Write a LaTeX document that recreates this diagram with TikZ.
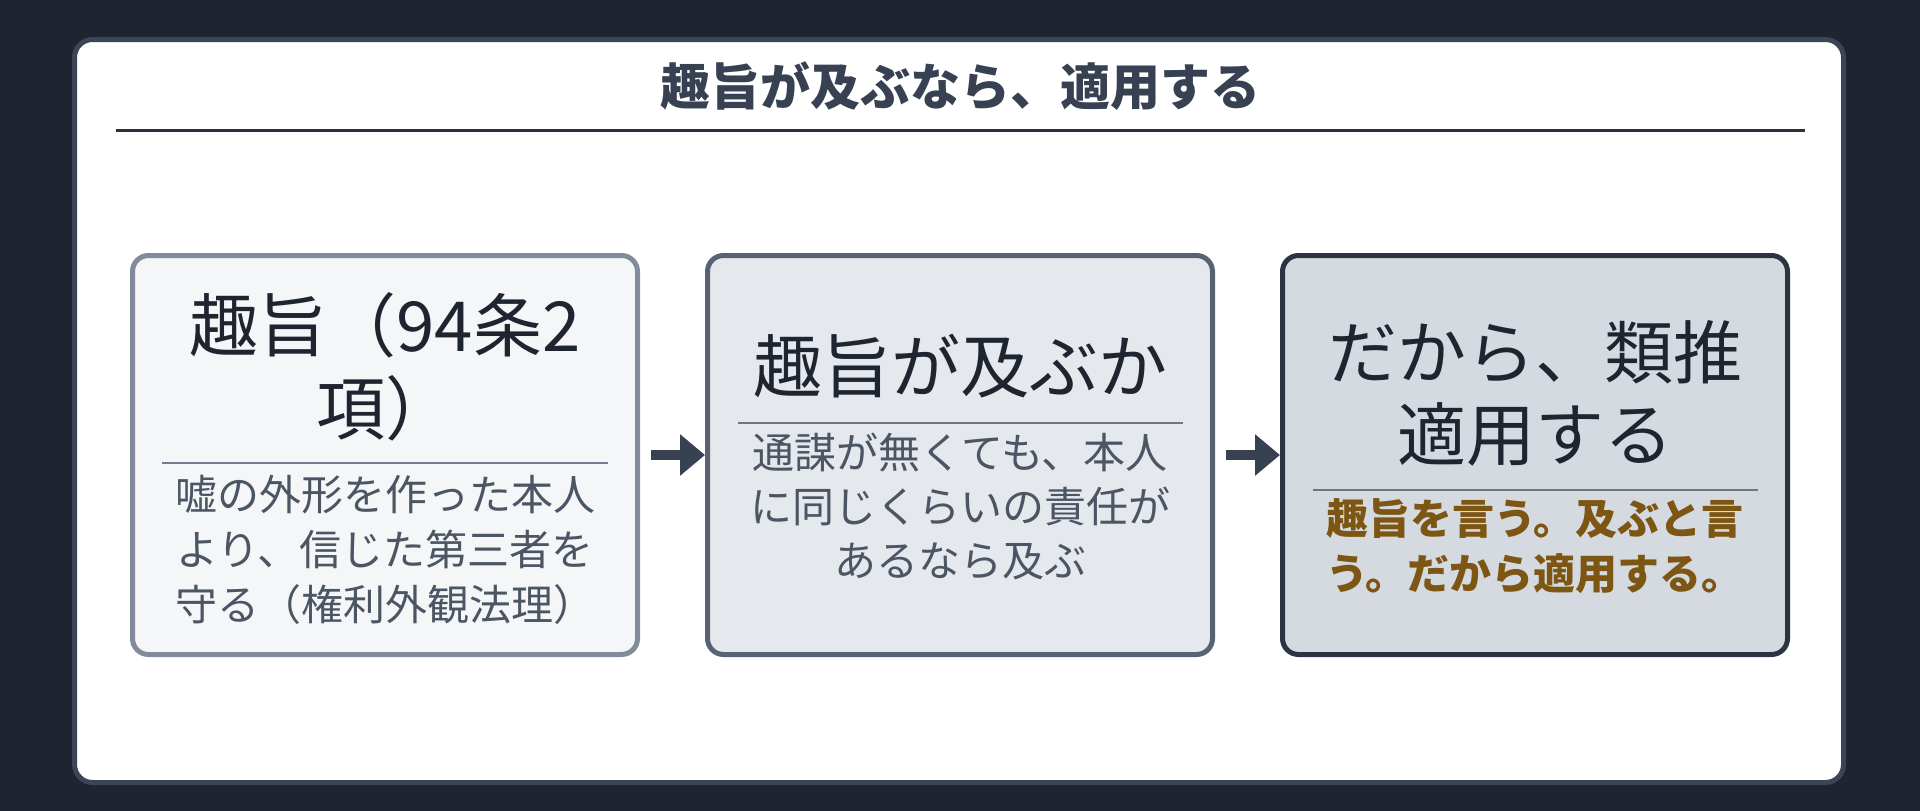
\documentclass[tikz,border=0pt]{standalone}
\usepackage{fontspec}
\newfontfamily\jp{Noto Sans CJK JP}
\usetikzlibrary{arrows.meta}
\definecolor{bgc}{RGB}{30,37,48}
\definecolor{framec}{RGB}{59,69,86}
\definecolor{titlec}{RGB}{55,65,81}
\definecolor{rulec}{RGB}{43,49,60}
\definecolor{fillA}{RGB}{244,246,248}
\definecolor{drawA}{RGB}{129,139,154}
\definecolor{fillB}{RGB}{229,232,236}
\definecolor{drawB}{RGB}{88,98,114}
\definecolor{fillC}{RGB}{213,218,225}
\definecolor{drawC}{RGB}{44,52,66}
\definecolor{headc}{RGB}{31,37,48}
\definecolor{bodyc}{RGB}{75,85,99}
\definecolor{brownc}{RGB}{124,86,18}
\definecolor{divc}{RGB}{110,118,132}
\definecolor{arrowc}{RGB}{55,65,81}
\tikzset{
  panel/.style={draw=framec, fill=white, line width=5pt, rounded corners=18pt,
    minimum width=1769pt, minimum height=743pt, inner sep=0pt, outer sep=0pt},
  stepbox/.style={line width=5pt, rounded corners=16pt, minimum width=505pt,
    minimum height=399pt, inner sep=0pt, outer sep=0pt},
  headtxt/.style={text=headc, align=center, inner sep=0pt,
    font=\jp\fontsize{69}{83}\selectfont},
  bodytxt/.style={text=bodyc, align=center, inner sep=0pt,
    font=\jp\fontsize{42}{55}\selectfont},
  divider/.style={draw=divc, line width=2.5pt},
  flow/.style={draw=arrowc, line width=10pt, -{Triangle[length=25pt,width=40pt]}}
}
\begin{document}
\begin{tikzpicture}[x=1pt,y=-1pt]
\fill[bgc] (0,0) rectangle (1920,811);
\useasboundingbox (0,0) rectangle (1920,811);
\node[panel] (frame) at (959,411) {};
\node[text=titlec, inner sep=0pt, font=\jp\bfseries\fontsize{50}{60}\selectfont] (title) at (960,86) {趣旨が及ぶなら、適用する};
\draw[draw=rulec, line width=3pt] (116,130) -- (1805,130);

\node[stepbox, draw=drawA, fill=fillA] (b1) at (385,455) {};
\node[stepbox, draw=drawB, fill=fillB] (b2) at (960,455) {};
\node[stepbox, draw=drawC, fill=fillC] (b3) at (1535,455) {};

\draw[flow, shorten <=13.5pt, shorten >=2.5pt] (b1.east) -- (b2.west);
\draw[flow, shorten <=13.5pt, shorten >=2.5pt] (b2.east) -- (b3.west);

% box 1
\node[headtxt] (h1) at (385,366.5) {趣旨（94条2\\項）};
\draw[divider, draw=drawA!90!black] (162,463) -- (608,463);
\node[bodytxt] (s1) at (385,550) {嘘の外形を作った本人\\より、信じた第三者を\\守る（権利外観法理）};

% box 2
\node[headtxt] (h2) at (960,366) {趣旨が及ぶか};
\draw[divider] (738,423) -- (1183,423);
\node[bodytxt, font=\jp\fontsize{42}{54}\selectfont] (s2) at (960,506) {通謀が無くても、本人\\に同じくらいの責任が\\あるなら及ぶ};

% box 3
\node[headtxt, font=\jp\fontsize{69}{82}\selectfont] (h3) at (1535,393) {だから、類推\\適用する};
\draw[divider] (1313,490) -- (1758,490);
\node[bodytxt, text=brownc, font=\jp\bfseries\fontsize{42}{55}\selectfont] (s3) at (1535,546.5) {趣旨を言う。及ぶと言\\う。だから適用する。};
\end{tikzpicture}
\end{document}
